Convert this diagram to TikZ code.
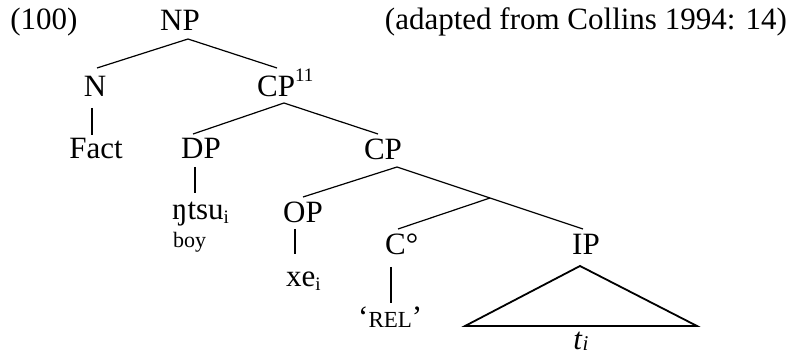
\documentclass[tikz,border=0pt]{standalone}
\usepackage{fontspec}
\setmainfont{Liberation Serif}
\begin{document}
\begin{tikzpicture}[x=1pt,y=-1pt,
  lbl/.style={inner sep=0pt,anchor=base,font=\fontsize{31}{33}\selectfont},
  lblw/.style={lbl,anchor=base west},
  small/.style={inner sep=0pt,anchor=base west,font=\fontsize{22}{24}\selectfont},
  branch/.style={line width=1.2pt},
  stem/.style={line width=1.8pt},
  tri/.style={line width=1.8pt,line join=miter}]
\useasboundingbox (0,0) rectangle (796,358);
\newcommand{\subi}{\raisebox{-0.25ex}{\fontsize{19}{20}\selectfont i}}
% labels
\node[lbl] (ex) at (44,30) {(100)};
\node[lbl] (src) at (586,30) {(adapted from Collins 1994: 14)};
\node[lbl] (NP) at (180,31) {NP};
\node[lbl] (N) at (95,97) {N};
\node[lblw] (CPa) at (257,97) {CP\raisebox{1.1ex}{\fontsize{19}{20}\selectfont 11}};
\node[lbl] (Fact) at (96,159) {Fact};
\node[lbl] (DP) at (201,159) {DP};
\node[lbl] (CPb) at (383,160) {CP};
\node[lblw] (ntsu) at (172,220) {ŋtsu\subi};
\node[small] (boy) at (173,248) {boy};
\node[lbl] (OP) at (303,223) {OP};
\node[lblw] (xe) at (286,287) {xe\subi};
\node[lblw] (C) at (385,255) {C°};
\node[lblw] (REL) at (358,327) {‘{\fontsize{23}{24}\selectfont REL}’};
\node[lbl] (IP) at (586,255) {IP};
\node[lbl] (t) at (581,349) {\textit{t}\raisebox{-0.12ex}{\fontsize{21}{22}\selectfont\textit{i}}};
% branch points
\coordinate (NPb) at (188,39);
\coordinate (Nt) at (97,68);
\coordinate (CPat) at (277,68);
\coordinate (CPab) at (284,103);
\coordinate (DPt) at (193,134);
\coordinate (CPbt) at (378,134);
\coordinate (CPbb) at (397,167);
\coordinate (OPt) at (303,197);
\coordinate (IPt) at (583,229);
\coordinate (Cbar) at (490,198);
\coordinate (Ct) at (398,229);
\coordinate (Nb) at (92,108);
\coordinate (Factt) at (92,135);
\coordinate (DPb) at (195,167);
\coordinate (ntsut) at (195,193);
\coordinate (OPb) at (295,229);
\coordinate (xet) at (295,254);
\coordinate (Cb) at (391,267);
\coordinate (RELt) at (391,303);
\coordinate (Ta) at (580,266);
\coordinate (Tl) at (465,326);
\coordinate (Tr) at (697,326);
% branches
\draw[branch] (Nt) -- (NPb) -- (CPat);
\draw[branch] (DPt) -- (CPab) -- (CPbt);
\draw[branch] (OPt) -- (CPbb) -- (IPt);
\draw[branch] (Cbar) -- (Ct);
\draw[stem] (Nb) -- (Factt);
\draw[stem] (DPb) -- (ntsut);
\draw[stem] (OPb) -- (xet);
\draw[stem] (Cb) -- (RELt);
\draw[tri] (Ta) -- (Tl) -- (Tr) -- cycle;
\end{tikzpicture}
\end{document}
